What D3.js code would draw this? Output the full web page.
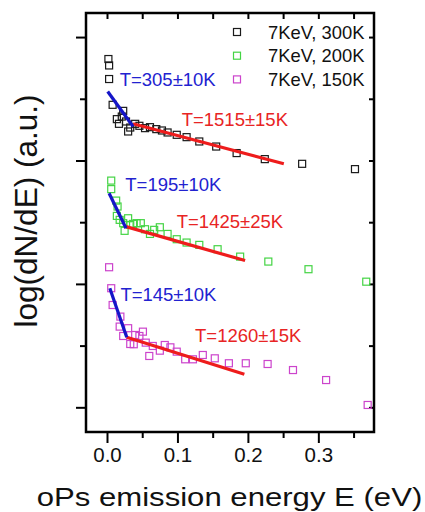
<!DOCTYPE html>
<html>
<head>
<meta charset="utf-8">
<script src="https://cdn.jsdelivr.net/npm/d3@7"></script>
<style>
  body { margin: 0; background: #fff; }
  text { font-family: "Liberation Sans", Arial, sans-serif; }
</style>
</head>
<body>
<svg id="chart" width="425" height="512"></svg>
<script>
// energy (eV), log(dN/dE) in arbitrary units
const data300 = [
  [0.002, 2.822], [0.003, 2.770], [0.003, 2.660], [0.008, 2.451], [0.023, 2.402],
  [0.014, 2.335], [0.017, 2.297], [0.021, 2.356], [0.027, 2.316], [0.030, 2.235],
  [0.033, 2.267], [0.040, 2.297], [0.046, 2.281], [0.054, 2.262], [0.061, 2.270],
  [0.070, 2.254], [0.078, 2.243], [0.086, 2.227], [0.099, 2.208], [0.113, 2.189],
  [0.131, 2.154], [0.155, 2.113], [0.184, 2.060], [0.224, 2.011], [0.277, 1.973],
  [0.352, 1.930]
];
const data200 = [
  [0.006, 1.837], [0.006, 1.768], [0.013, 1.675], [0.015, 1.627], [0.014, 1.551],
  [0.018, 1.519], [0.023, 1.492], [0.025, 1.430], [0.030, 1.532], [0.033, 1.478],
  [0.037, 1.486], [0.042, 1.492], [0.048, 1.492], [0.054, 1.443], [0.061, 1.405],
  [0.067, 1.438], [0.075, 1.459], [0.086, 1.405], [0.099, 1.362], [0.113, 1.335],
  [0.131, 1.316], [0.157, 1.281], [0.189, 1.221], [0.229, 1.181], [0.286, 1.119],
  [0.368, 1.018]
];
const data150 = [
  [0.003, 1.135], [0.006, 0.965], [0.008, 0.829], [0.019, 0.735], [0.018, 0.654],
  [0.023, 0.578], [0.030, 0.641], [0.033, 0.513], [0.038, 0.511], [0.040, 0.586],
  [0.046, 0.578], [0.051, 0.613], [0.055, 0.524], [0.060, 0.416], [0.065, 0.497],
  [0.075, 0.459], [0.082, 0.505], [0.090, 0.486], [0.099, 0.451], [0.111, 0.389],
  [0.122, 0.389], [0.136, 0.424], [0.153, 0.397], [0.173, 0.357], [0.197, 0.357],
  [0.228, 0.351], [0.264, 0.302], [0.311, 0.221], [0.370, 0.019]
];

// linear fits (start, end)
const fitsLow = [
  [[0.001, 2.559], [0.037, 2.275]],
  [[0.003, 1.735], [0.027, 1.451]],
  [[0.004, 0.965], [0.028, 0.568]]
];
const fitsHigh = [
  [[0.037, 2.297], [0.251, 1.973]],
  [[0.027, 1.464], [0.196, 1.189]],
  [[0.028, 0.568], [0.195, 0.268]]
];

// fit labels: text, x, y (data units, left/baseline)
const lowLabels = [["T=305\u00b110K", 0.018, 2.600], ["T=195\u00b110K", 0.026, 1.749], ["T=145\u00b110K", 0.019, 0.862]];
const highLabels = [["T=1515\u00b115K", 0.106, 2.276], ["T=1425\u00b125K", 0.099, 1.451], ["T=1260\u00b115K", 0.125, 0.532]];

const seriesNames = ["7KeV, 300K", "7KeV, 200K", "7KeV, 150K"];
const seriesColors = ["#1a1a1a", "#44d444", "#cc44cc"];
const xTicks = [0.0, 0.1, 0.2, 0.3];
const xMinorTicks = [0.05, 0.15, 0.25, 0.35];
const yTicks = [0, 1, 2, 3];
const yMinorTicks = [0.5, 1.5, 2.5];

const svg = d3.select("#chart");
const margin = { top: 13, right: 51, bottom: 80, left: 86 };
const width = 425, height = 512;

const x = d3.scaleLinear().domain([-0.0298, 0.379]).range([margin.left, width - margin.right]);
const y = d3.scaleLinear().domain([-0.2, 3.195]).range([height - margin.bottom, margin.top]);

const blue = "#1515c8", red = "#ee1c1c";

// axes
const xAxis = d3.axisBottom(x).tickValues(xTicks).tickSize(11).tickPadding(4).tickFormat(d3.format(".1f"));
const gx = svg.append("g").attr("transform", `translate(0,${y.range()[0]})`).call(xAxis);
gx.select(".domain").remove();
gx.selectAll(".tick line").attr("stroke-width", 2);
gx.selectAll(".tick text").attr("font-size", "20.5px").attr("fill", "#111");

svg.append("g").attr("transform", `translate(0,${y.range()[0]})`)
  .call(d3.axisBottom(x).tickValues(xMinorTicks).tickSize(6).tickFormat(""))
  .call(g => g.select(".domain").remove())
  .selectAll("line").attr("stroke-width", 2);

svg.append("g").attr("transform", `translate(0,${margin.top})`)
  .call(d3.axisBottom(x).tickValues(xTicks.concat(xMinorTicks)).tickSize(6).tickFormat(""))
  .call(g => g.select(".domain").remove())
  .selectAll("line").attr("stroke-width", 2);

svg.append("g").attr("transform", `translate(${margin.left},0)`)
  .call(d3.axisLeft(y).tickValues(yTicks).tickSize(10).tickFormat(""))
  .call(g => g.select(".domain").remove())
  .selectAll("line").attr("stroke-width", 2);

svg.append("g").attr("transform", `translate(${margin.left},0)`)
  .call(d3.axisLeft(y).tickValues(yMinorTicks).tickSize(6).tickFormat(""))
  .call(g => g.select(".domain").remove())
  .selectAll("line").attr("stroke-width", 2);

svg.append("g").attr("transform", `translate(${width - margin.right},0)`)
  .call(d3.axisLeft(y).tickValues(yTicks.concat(yMinorTicks)).tickSize(5).tickFormat(""))
  .call(g => g.select(".domain").remove())
  .selectAll("line").attr("stroke-width", 2);

// data squares
const sq = 7;
[data300, data200, data150].forEach((s, i) => {
  svg.append("g").selectAll("rect")
    .data(s)
    .join("rect")
    .attr("x", d => x(d[0]) - sq / 2)
    .attr("y", d => y(d[1]) - sq / 2)
    .attr("width", sq)
    .attr("height", sq)
    .style("fill", "none")
    .style("stroke", seriesColors[i])
    .style("stroke-width", 1.2);
});

// fit lines
const line = d3.line().x(d => x(d[0])).y(d => y(d[1]));
svg.append("g").selectAll("path").data(fitsHigh).join("path")
  .attr("d", line).style("fill", "none").style("stroke", red).style("stroke-width", 3.2);
svg.append("g").selectAll("path").data(fitsLow).join("path")
  .attr("d", line).style("fill", "none").style("stroke", blue).style("stroke-width", 3.2);

// fit labels
svg.append("g").selectAll("text").data(lowLabels).join("text")
  .attr("x", d => x(d[1])).attr("y", d => y(d[2]))
  .attr("font-size", "18.5px").attr("fill", "#2222d0").text(d => d[0]);
svg.append("g").selectAll("text").data(highLabels).join("text")
  .attr("x", d => x(d[1])).attr("y", d => y(d[2]))
  .attr("font-size", "18.5px").attr("fill", "#e82424").text(d => d[0]);

// legend
const legend = svg.append("g").attr("transform", "translate(237,32)");
seriesNames.forEach((name, i) => {
  const g = legend.append("g").attr("transform", `translate(0,${i * 23.7})`);
  g.append("rect").attr("x", -3.5).attr("y", -3.5).attr("width", 7).attr("height", 7)
    .style("fill", "none").style("stroke", seriesColors[i]).style("stroke-width", 1.2);
  g.append("text").attr("x", 31).attr("y", 6.5).attr("font-size", "18.4px").attr("fill", "#111").text(name);
});

// frame
svg.append("rect")
  .attr("x", margin.left).attr("y", margin.top)
  .attr("width", width - margin.left - margin.right)
  .attr("height", height - margin.top - margin.bottom)
  .style("fill", "none").style("stroke", "#000").style("stroke-width", 2.5);

// axis titles
svg.append("text")
  .attr("transform", "translate(229.5,506) scale(1.22,1)")
  .attr("text-anchor", "middle").attr("font-size", "25.5px").attr("fill", "#111")
  .text("oPs emission energy E (eV)");

svg.append("text")
  .attr("transform", "translate(37,211) rotate(-90)")
  .attr("text-anchor", "middle").attr("font-size", "31.5px").attr("fill", "#111")
  .text("log(dN/dE) (a.u.)");
</script>
</body>
</html>
